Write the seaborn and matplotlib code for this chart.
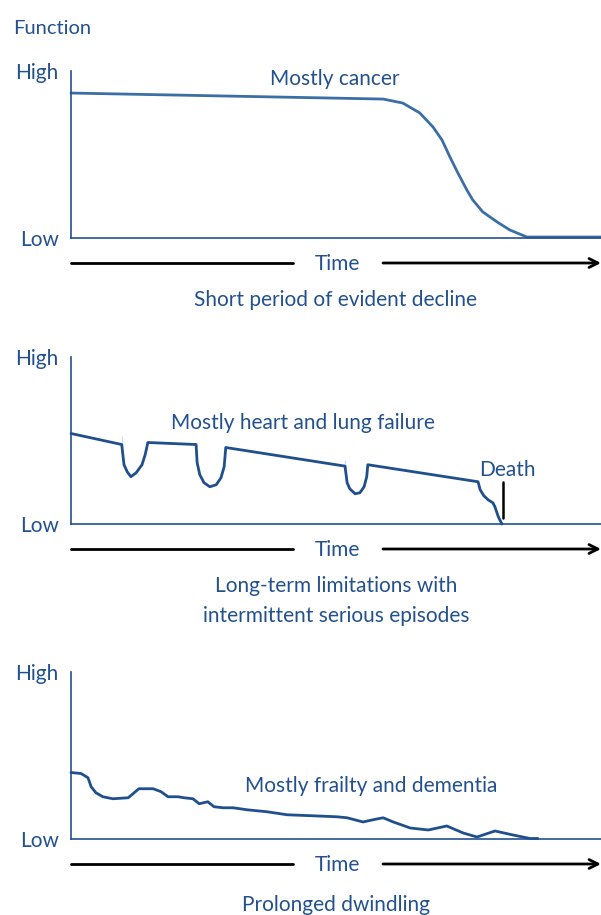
import matplotlib
matplotlib.use("agg")
import matplotlib.pyplot as plt
import seaborn as sns
import pandas as pd

# trajectory 1: mostly cancer
cancer_x = [0, 58.9, 62.6, 65.8, 68.3, 70.0, 71.5, 73.0, 74.7, 75.8, 77.7, 80.4, 82.8, 86.0, 100]
cancer_y = [86.8, 83.2, 80.8, 74.9, 66.5, 58.7, 48.5, 38.9, 28.7, 22.8, 15.6, 9.6, 4.8, 0.6, 0.6]

# trajectory 2: heart and lung failure
organ_x = [0, 9.57, 9.57, 10.0, 10.6, 11.3, 12.3, 13.4, 14.0, 14.5,
           23.6, 23.8, 24.3, 25.1, 26.2, 27.4, 28.3, 28.9, 29.2,
           51.7, 51.7, 52.1, 52.6, 53.6, 54.5, 55.3, 55.8, 56.0,
           76.8, 77.2, 77.9, 78.7, 79.6, 80.0, 80.6, 80.6, 81.3]
organ_y = [54.2, 52.4, 42.8, 35.5, 31.3, 28.3, 30.7, 35.5, 41.6, 48.8,
           47.6, 36.7, 29.5, 24.7, 22.3, 23.5, 27.7, 34.3, 45.8,
           38.6, 30.7, 24.7, 21.1, 18.1, 18.7, 22.3, 28.3, 35.5,
           25.3, 20.5, 16.9, 14.5, 12.7, 10.2, 6.6, 2.4, 0]
death_x = 81.5
death_y = [25.3, 3.6]

# trajectory 3: frailty and dementia
frail_x = [0, 1.9, 3.2, 3.8, 4.7, 6.0, 7.9, 10.8, 11.7, 12.8, 15.5, 17.0, 18.3, 20.2, 21.3,
           23.0, 24.2, 25.8, 27.0, 28.7, 30.6, 33.2, 37.0, 40.8, 45.7, 50.2, 52.1, 55.1,
           57.4, 58.9, 60.8, 64.0, 67.4, 70.9, 74.0, 76.6, 80.0, 83.4, 86.6, 88.1]
frail_y = [39.8, 39.2, 36.7, 31.3, 27.7, 25.3, 24.1, 24.7, 27.1, 30.1, 30.1, 28.3, 25.3, 25.3,
           24.7, 24.1, 21.1, 22.3, 19.3, 18.7, 18.7, 17.5, 16.3, 14.5, 13.9, 13.3, 12.7, 10.2,
           11.8, 12.7, 10.2, 6.6, 5.4, 7.8, 3.6, 1.2, 4.8, 2.4, 0.3, 0.3]

labels = ["Mostly cancer", "Mostly heart and lung failure", "Mostly frailty and dementia"]
label_pos = [(49.7, 95.0), (43.8, 60.5), (56.6, 32.0)]
captions = ["Short period of evident decline",
            "Long-term limitations with\nintermittent serious episodes",
            "Prolonged dwindling"]
tick_labels = ["Low", "High"]

BLUE = "#23518f"
CURVE = ["#3c6ea6", "#1f4f8d", "#1f4f8d"]
FS = 15

sns.set_style("white")
plt.rcParams["font.family"] = ["Lato", "DejaVu Sans"]

fig = plt.figure(figsize=(6.01, 9.15), dpi=100)
W, H = 601, 915
bottoms = [238, 524, 839]
ax_h = 167

curves = [(cancer_x, cancer_y), (organ_x, organ_y), (frail_x, frail_y)]
cap_offsets = [-62, -77, -66]

for i, (xs, ys) in enumerate(curves):
    ax = fig.add_axes([71 / W, 1 - bottoms[i] / H, (W - 71) / W, ax_h / H])
    df = pd.DataFrame({"t": xs, "f": ys})
    sns.lineplot(data=df, x="t", y="f", ax=ax, sort=False, color=CURVE[i],
                 linewidth=2.0, clip_on=False, solid_joinstyle="round",
                 solid_capstyle="round")
    ax.set_xlim(0, 100)
    ax.set_ylim(0, 100)
    ax.set_xlabel("")
    ax.set_ylabel("")
    ax.set_xticks([])
    ax.set_yticks([0, 100])
    ax.set_yticklabels(tick_labels, color=BLUE, fontsize=FS)
    ax.tick_params(axis="y", length=0, pad=9)
    for s in ["top", "right"]:
        ax.spines[s].set_visible(False)
    for s in ["left", "bottom"]:
        ax.spines[s].set_color(BLUE)
        ax.spines[s].set_linewidth(1.2)

    lx, ly = label_pos[i]
    ax.text(lx, ly, labels[i], color=BLUE, fontsize=FS, ha="center", va="center")

    # time arrow under each panel
    yarr = -25 / ax_h
    ax.plot([0, (293 - 71) / 530], [yarr, yarr], color="black", lw=2,
            transform=ax.transAxes, clip_on=False)
    ax.annotate("", xy=(1.0, yarr), xytext=((383 - 71) / 530, yarr),
                xycoords="axes fraction", textcoords="axes fraction",
                arrowprops=dict(arrowstyle="->", color="black", lw=2,
                                mutation_scale=16, shrinkA=0, shrinkB=0),
                annotation_clip=False)
    ax.text((337 - 71) / 530, yarr - 1 / ax_h, "Time", transform=ax.transAxes, color=BLUE,
            fontsize=FS, ha="center", va="center")

    ax.text((336 - 71) / 530, cap_offsets[i] / ax_h, captions[i], transform=ax.transAxes,
            color=BLUE, fontsize=FS, ha="center", va="center", linespacing=1.6)

    if i == 1:
        ax.plot([death_x, death_x], death_y, color="black", lw=1.8)
        ax.text(77.0, 32.5, "Death", color=BLUE, fontsize=FS, ha="left", va="center")

fig.text(13 / W, 1 - 28 / H, "Function", color=BLUE, fontsize=14.5, ha="left", va="center")

fig.savefig("out.png", dpi=100)
